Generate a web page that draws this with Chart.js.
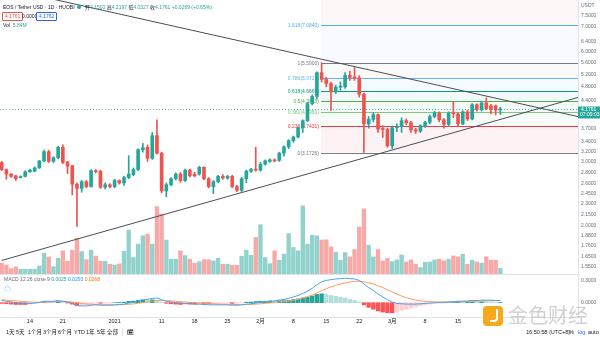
<!DOCTYPE html>
<html><head><meta charset="utf-8">
<script src="https://cdn.jsdelivr.net/npm/chart.js@4/dist/chart.umd.min.js"></script>
<style>
html,body{margin:0;padding:0;background:#fff;}
#wrap{position:relative;width:600px;height:338px;overflow:hidden;font-family:"Liberation Sans","Noto Sans CJK SC",sans-serif;}
canvas{position:absolute;left:0;}
.t{position:absolute;white-space:nowrap;font-size:5px;line-height:6px;color:#131722;}
.v{color:#26a69a;}
.box{position:absolute;font-size:5px;line-height:5px;padding:1px 2px;border:1px solid;border-radius:1px;white-space:nowrap;}
.tb{position:absolute;top:329px;font-size:5.5px;line-height:6px;color:#131722;white-space:nowrap;}
</style></head><body>
<div id="wrap">
<canvas id="main" width="600" height="275" style="top:0"></canvas>
<canvas id="macd" width="600" height="53" style="top:275px"></canvas>
<div style="position:absolute;left:0;top:274px;width:578px;height:1px;background:#e0e3eb"></div>

<div class="t" style="left:3px;top:4px;">EOS / Tether USD · 1D · HUOBI</div>
<div style="position:absolute;left:77px;top:5px;width:4px;height:4px;border-radius:50%;background:#26a69a"></div>
<div class="t" style="left:85px;top:4px;">开<span class="v">4.1500</span> 高<span class="v">4.2197</span> 低<span class="v">4.0327</span> 收<span class="v">4.1761</span> <span class="v">+0.0269 (+0.65%)</span></div>
<div class="box" style="left:2px;top:12px;color:#ef5350;border-color:#ef5350">4.1761</div>
<div class="t" style="left:22px;top:13px;">0.0001</div>
<div class="box" style="left:36px;top:12px;color:#2962ff;border-color:#2962ff">4.1762</div>
<div class="t" style="left:3px;top:22px;">Vol&nbsp;&nbsp;<span class="v">5.84M</span></div>
<div class="t" style="left:581px;top:2px;color:#6a6d78">USDT</div>

<div class="t" style="left:4px;top:276px;color:#6a6d78">MACD 12 26 close 9 <span style="color:#26a69a">0.0025</span> <span style="color:#2196f3">0.0293</span> <span style="color:#ff6d00">0.0268</span></div>
<div class="t" style="left:4px;top:286px;color:#2196f3;font-size:7px">☁</div>

<div class="tb" style="left:6px">1天</div>
<div class="tb" style="left:16px">5天</div>
<div class="tb" style="left:28px">1个月</div>
<div class="tb" style="left:43px">3个月</div>
<div class="tb" style="left:58px">6个月</div>
<div class="tb" style="left:74px">YTD</div>
<div class="tb" style="left:86px">1年</div>
<div class="tb" style="left:97px">5年</div>
<div class="tb" style="left:107px">全部</div>
<div style="position:absolute;left:122px;top:328px;width:1px;height:8px;background:#e0e3eb"></div>
<div class="tb" style="left:127px">🗓</div>
<div class="tb" style="left:526px">16:50:58 (UTC+8)</div>
<div class="tb" style="left:569px">%</div>
<div class="tb" style="left:578px;color:#2962ff">log</div>
<div class="tb" style="left:588px">auto</div>

<div style="position:absolute;left:483px;top:306px;width:20px;height:20px;border-radius:4px;background:#f7a81b;"></div>
<div style="position:absolute;left:490px;top:309px;width:6px;height:11px;border:2px solid #fff;border-top:none;border-left:none;border-radius:0 0 4px 0;"></div>
<div style="position:absolute;left:508px;top:303px;font-size:20px;line-height:24px;color:#c9c9c9;font-family:'Noto Sans CJK SC';opacity:0.85;letter-spacing:0px">金色财经</div>
</div>
<script>
// ---------- data ----------
const openP  = [2.98,2.85,2.77,2.74,2.71,2.73,2.81,2.82,2.88,3.01,3.19,3.00,3.07,3.28,2.99,2.92,2.60,2.53,2.64,2.56,2.83,2.82,2.55,2.59,2.56,2.66,2.62,2.71,2.76,2.85,3.23,3.28,3.06,3.53,3.16,2.49,2.59,2.69,2.77,2.66,2.84,2.77,2.77,2.89,2.69,2.56,2.64,2.73,2.70,2.73,2.56,2.50,2.69,2.82,2.85,2.84,2.95,3.00,3.03,3.02,3.16,3.29,3.42,3.50,3.71,3.88,4.32,4.52,5.25,5.03,4.90,4.65,4.79,4.80,5.16,5.09,5.08,4.58,3.80,3.91,4.03,3.68,3.67,3.31,3.71,3.74,3.88,3.83,3.66,3.63,3.76,3.84,3.98,4.07,3.90,3.79,4.07,4.05,3.80,4.10,3.92,4.29,4.16,4.34,4.26,4.26,4.15];
const highP  = [3.00,2.86,2.78,2.75,2.74,2.83,2.86,2.90,3.02,3.22,3.22,3.09,3.30,3.33,3.00,2.93,2.62,2.66,2.66,2.85,2.85,2.84,2.62,2.61,2.68,2.67,2.73,3.11,2.88,3.25,3.36,3.33,3.60,3.90,3.18,2.62,2.71,2.79,2.80,2.86,2.86,2.80,2.91,2.90,2.71,2.66,2.75,2.76,2.75,2.75,2.58,2.71,2.84,2.87,3.28,2.98,3.03,3.05,3.05,3.18,3.31,3.44,3.52,3.73,3.90,4.35,4.56,5.28,5.59,5.10,4.95,4.85,4.95,5.25,5.30,5.42,5.15,4.62,3.98,4.08,4.05,3.76,3.70,3.75,3.80,3.95,3.92,3.86,3.70,3.78,3.87,4.02,4.12,4.10,3.93,4.10,4.38,4.08,4.13,4.14,4.32,4.31,4.37,4.48,4.30,4.28,4.2197];
const lowP   = [2.83,2.68,2.71,2.66,2.70,2.72,2.80,2.81,2.87,2.99,2.98,2.98,3.05,2.96,2.78,2.43,1.99,2.47,2.54,2.55,2.79,2.53,2.52,2.54,2.54,2.60,2.58,2.69,2.74,2.83,3.18,3.00,3.04,3.14,2.46,2.40,2.57,2.67,2.63,2.64,2.72,2.72,2.75,2.67,2.54,2.45,2.62,2.68,2.68,2.54,2.48,2.48,2.62,2.80,2.82,2.82,2.93,2.98,2.99,3.00,3.10,3.25,3.38,3.48,3.60,3.85,4.28,4.45,4.95,4.80,4.14,4.60,4.70,4.75,5.00,5.00,4.50,3.1726,3.70,3.85,3.60,3.49,3.28,3.25,3.62,3.60,3.78,3.60,3.58,3.60,3.72,3.80,3.95,3.85,3.70,3.75,3.95,3.76,3.78,3.88,3.90,4.12,4.12,4.15,4.05,4.02,4.0327];
const closeP = [2.85,2.77,2.73,2.69,2.72,2.81,2.84,2.88,3.01,3.19,3.00,3.07,3.28,2.98,2.91,2.60,2.53,2.64,2.56,2.83,2.81,2.55,2.59,2.56,2.66,2.62,2.71,2.77,2.85,3.23,3.27,3.06,3.53,3.16,2.49,2.59,2.69,2.77,2.66,2.84,2.74,2.74,2.89,2.69,2.56,2.64,2.73,2.70,2.73,2.56,2.50,2.69,2.82,2.85,2.84,2.95,3.01,3.03,3.01,3.16,3.29,3.42,3.50,3.71,3.88,4.32,4.52,5.25,5.03,4.90,4.65,4.79,4.80,5.16,5.09,5.08,4.58,3.80,3.91,4.03,3.68,3.67,3.31,3.71,3.74,3.88,3.83,3.66,3.63,3.76,3.84,3.98,4.07,3.90,3.79,4.07,4.05,3.80,4.10,3.92,4.29,4.16,4.34,4.18,4.16,4.149,4.1761];
const volumeM = [10.2,8.7,5.5,7.0,5.0,5.0,5.0,5.0,7.8,18.9,15.7,7.2,14.5,20.9,11.9,21.5,31.9,20.3,13.3,21.5,16.3,11.9,11.9,9.3,8.7,9.6,20.6,38.9,15.1,26.7,33.9,35.4,26.7,59.2,52.8,30.2,13.7,13.7,20.9,16.8,13.7,10.2,11.6,13.3,13.3,12.2,14.5,9.3,9.3,8.4,8.4,16.3,21.5,17.1,32.5,43.5,15.1,9.8,20.9,12.8,18.0,35.9,23.8,20.9,59.8,26.7,34.5,33.9,30.2,30.5,24.4,19.7,12.8,19.4,15.7,22.0,41.5,57.2,25.8,15.7,22.0,12.2,14.5,11.6,13.1,17.4,11.3,13.1,9.3,6.4,11.0,11.3,13.1,13.7,12.2,13.7,16.5,15.7,18.0,9.3,12.8,11.3,10.2,15.7,12.8,12.8,5.84];
const macdLine = [0.03,0.02,0.01,0.0,-0.005,-0.01,-0.01,-0.005,0.005,0.02,0.02,0.02,0.03,0.02,0.01,-0.01,-0.04,-0.045,-0.045,-0.035,-0.03,-0.035,-0.035,-0.035,-0.03,-0.025,-0.02,-0.005,0.005,0.025,0.04,0.045,0.06,0.065,0.04,0.02,0.01,0.0,-0.01,-0.01,-0.015,-0.02,-0.02,-0.025,-0.03,-0.03,-0.03,-0.03,-0.03,-0.035,-0.035,-0.03,-0.02,-0.015,-0.005,0.005,0.01,0.02,0.025,0.035,0.045,0.06,0.08,0.10,0.13,0.16,0.20,0.25,0.29,0.31,0.32,0.33,0.335,0.34,0.335,0.33,0.31,0.26,0.21,0.17,0.12,0.08,0.04,0.01,-0.01,-0.015,-0.02,-0.02,-0.02,-0.015,-0.01,-0.005,0.0,0.005,0.005,0.01,0.015,0.02,0.02,0.025,0.03,0.03,0.035,0.035,0.035,0.03,0.0293];
const signalLine = [0.04,0.035,0.03,0.025,0.02,0.015,0.01,0.005,0.005,0.005,0.01,0.012,0.015,0.017,0.015,0.01,0.0,-0.01,-0.02,-0.022,-0.025,-0.027,-0.029,-0.03,-0.03,-0.029,-0.027,-0.023,-0.017,-0.008,0.002,0.01,0.02,0.029,0.031,0.029,0.025,0.02,0.014,0.009,0.004,0.0,-0.004,-0.008,-0.012,-0.016,-0.019,-0.021,-0.023,-0.025,-0.027,-0.028,-0.026,-0.024,-0.02,-0.015,-0.01,-0.004,0.002,0.009,0.016,0.025,0.036,0.048,0.065,0.083,0.107,0.135,0.166,0.195,0.22,0.242,0.26,0.276,0.288,0.296,0.299,0.29,0.275,0.26,0.235,0.21,0.18,0.15,0.12,0.093,0.07,0.052,0.038,0.027,0.019,0.014,0.011,0.01,0.009,0.009,0.01,0.012,0.013,0.015,0.018,0.02,0.023,0.025,0.027,0.028,0.0268];
const macdHist = [-0.01,-0.015,-0.02,-0.025,-0.025,-0.025,-0.02,-0.01,0.0,0.015,0.01,0.008,0.015,0.003,-0.005,-0.02,-0.04,-0.035,-0.025,-0.013,-0.005,-0.008,-0.006,-0.005,0.0,0.004,0.007,0.018,0.022,0.033,0.038,0.035,0.04,0.036,0.009,-0.009,-0.015,-0.02,-0.024,-0.019,-0.019,-0.02,-0.016,-0.017,-0.018,-0.014,-0.011,-0.009,-0.007,-0.01,-0.008,-0.002,0.006,0.009,0.015,0.02,0.02,0.024,0.023,0.026,0.029,0.035,0.044,0.052,0.065,0.077,0.093,0.115,0.124,0.115,0.10,0.088,0.075,0.064,0.047,0.034,0.011,-0.03,-0.065,-0.09,-0.115,-0.13,-0.14,-0.14,-0.13,-0.108,-0.09,-0.072,-0.058,-0.042,-0.029,-0.019,-0.011,-0.005,-0.004,0.001,0.005,0.008,0.007,0.01,0.012,0.01,0.012,0.01,0.008,0.002,0.0025];
const priceTicks = [7.5,7.0,6.4,6.0,5.6,5.2,4.8,4.4,3.7,3.4,3.2,3.0,2.8,2.6,2.45,2.3,2.15,2.0,1.88,1.76,1.65,1.55];
const macdTicks = [0.3,0.0];
const timeTickIdx = [6,13,24,34,41,48,55,62,69,76,83,90,97,104];
const timeTickText = ['14','21','2021','11','18','25','2月','8','15','22','3月','8','15','22'];
const fibRatios = ['0','0.236','0.382','0.5','0.618','0.786','1','1.618'];
const fibPrices = [3.1726,3.7431,4.0960,4.3813,4.6666,5.0727,5.5900,7.0840];
const fibStartIdx = 67.8;
const trendDownX = [0,122.5], trendDownY = [8.97,3.98];
const trendUpX = [0,122.5], trendUpY = [1.607,4.49];
const lastPrice = 4.1761, lastTime = '07:09:03';
// ---------- styles ----------
const UP='#26a69a', DN='#ef5350';
const fibLineColors = ['#787b86','#f23645','#81c784','#4caf50','#089981','#64b5f6','#787b86','#4fb3e8'];
const fibFillColors = ['rgba(242,54,69,0.06)','rgba(129,199,132,0.06)','rgba(76,175,80,0.06)','rgba(8,153,129,0.05)','rgba(100,181,246,0.06)','rgba(120,123,134,0.035)','rgba(41,98,255,0.03)','rgba(242,54,69,0.04)'];
const FONT = 'Liberation Sans, Noto Sans CJK SC, sans-serif';
const X_MIN = -0.36, X_MAX = 122.5;
const N = closeP.length;
const idx = Array.from({length:N},(_,i)=>i);
const isUp = idx.map(i=>closeP[i]>=openP[i]);
const noPad = s=>{s.paddingTop=0; s.paddingBottom=0; s.paddingLeft=0; s.paddingRight=0;};

const fibPlugin = {
  id:'fib',
  beforeDatasetsDraw(chart){
    const {ctx, chartArea:a, scales:{x,y}} = chart;
    const x0 = Math.round(x.getPixelForValue(fibStartIdx));
    ctx.save();
    ctx.beginPath(); ctx.rect(a.left,a.top,a.right-a.left,a.bottom-a.top); ctx.clip();
    for(let k=0;k<fibPrices.length;k++){
      const yLo = y.getPixelForValue(fibPrices[k]);
      const yHi = k+1<fibPrices.length ? y.getPixelForValue(fibPrices[k+1]) : a.top;
      ctx.fillStyle = fibFillColors[k];
      ctx.fillRect(x0, yHi, a.right-x0, yLo-yHi);
    }
    ctx.lineWidth=1;
    ctx.font = '5px '+FONT; ctx.textAlign='right'; ctx.textBaseline='middle';
    for(let k=0;k<fibPrices.length;k++){
      const yy = Math.round(y.getPixelForValue(fibPrices[k]))+0.5;
      ctx.strokeStyle = fibLineColors[k];
      ctx.beginPath(); ctx.moveTo(x0,yy); ctx.lineTo(a.right,yy); ctx.stroke();
      ctx.fillStyle = fibLineColors[k];
      ctx.fillText(fibRatios[k]+'('+fibPrices[k].toFixed(4)+')', x0-2, yy);
    }
    ctx.restore();
  },
  afterDatasetsDraw(chart){
    const {ctx, chartArea:a, scales:{y}} = chart;
    const yy = Math.round(y.getPixelForValue(lastPrice))+0.5;
    ctx.save();
    ctx.strokeStyle='rgba(38,166,154,0.8)'; ctx.setLineDash([1,2]); ctx.lineWidth=1;
    ctx.beginPath(); ctx.moveTo(a.left,yy); ctx.lineTo(a.right,yy); ctx.stroke();
    ctx.setLineDash([]);
    ctx.fillStyle=UP; ctx.fillRect(a.right, yy-3, 22, 12);
    ctx.fillStyle='#fff'; ctx.font='5px '+FONT; ctx.textAlign='left'; ctx.textBaseline='middle';
    ctx.fillText(lastPrice.toFixed(4), a.right+3, yy+0.5);
    ctx.fillText(lastTime, a.right+2, yy+5.5);
    ctx.restore();
  }
};

new Chart(document.getElementById('main'), {
  type:'bar',
  data:{ datasets:[
    {type:'line', data:trendDownX.map((v,k)=>({x:v,y:trendDownY[k]})), borderColor:'#4a4d57', borderWidth:1, pointRadius:0, yAxisID:'y', order:0},
    {type:'line', data:trendUpX.map((v,k)=>({x:v,y:trendUpY[k]})), borderColor:'#4a4d57', borderWidth:1, pointRadius:0, yAxisID:'y', order:0},
    {data:idx.map(i=>({x:i,y:[openP[i],closeP[i]]})), backgroundColor:idx.map(i=>isUp[i]?UP:DN), barThickness:3, minBarLength:1, grouped:false, yAxisID:'y', order:1},
    {data:idx.map(i=>({x:i,y:[lowP[i],highP[i]]})), backgroundColor:idx.map(i=>isUp[i]?UP:DN), barThickness:1, grouped:false, yAxisID:'y', order:2},
    {data:idx.map(i=>({x:i,y:volumeM[i]})), backgroundColor:idx.map(i=>isUp[i]?'rgba(38,166,154,0.5)':'rgba(239,83,80,0.5)'), barThickness:3.7, grouped:false, yAxisID:'yVol', order:5}
  ]},
  options:{
    responsive:false, animation:false, devicePixelRatio:1,
    layout:{padding:0, autoPadding:false},
    plugins:{legend:{display:false}, tooltip:{enabled:false}},
    scales:{
      x:{type:'linear', min:X_MIN, max:X_MAX, offset:false, display:false},
      yVol:{type:'linear', min:0, max:238, display:false},
      y:{type:'logarithmic', position:'right', min:1.466, max:8.30,
         afterBuildTicks:s=>{s.ticks = priceTicks.map(v=>({value:v}));},
         afterFit:s=>{s.width=22; noPad(s);},
         ticks:{callback:v=>Number(v).toFixed(4), font:{size:5, family:FONT}, color:'#6a6d78', padding:3, autoSkip:false},
         grid:{display:false, drawTicks:false},
         border:{display:true, color:'#e0e3eb'}}
    }
  },
  plugins:[fibPlugin]
});

const histColors = idx.map(i=>{
  const h=macdHist[i], p=i>0?macdHist[i-1]:0;
  if(h>=0) return h>=p?'#26a69a':'#b2dfdb';
  return h<=p?'#ff5252':'#ffcdd2';
});
new Chart(document.getElementById('macd'), {
  type:'bar',
  data:{ datasets:[
    {type:'line', data:idx.map(i=>({x:i,y:macdLine[i]})), borderColor:'#4aa3f0', borderWidth:1, pointRadius:0, tension:0, order:0},
    {type:'line', data:idx.map(i=>({x:i,y:signalLine[i]})), borderColor:'#ff9d5c', borderWidth:1, pointRadius:0, tension:0, order:0},
    {data:idx.map(i=>({x:i,y:macdHist[i]})), backgroundColor:histColors, barThickness:3.7, grouped:false, order:1}
  ]},
  options:{
    responsive:false, animation:false, devicePixelRatio:1,
    layout:{padding:0, autoPadding:false},
    plugins:{legend:{display:false}, tooltip:{enabled:false}},
    scales:{
      x:{type:'linear', min:X_MIN, max:X_MAX, offset:false,
         afterBuildTicks:s=>{s.ticks = timeTickIdx.map(v=>({value:v}));},
         afterFit:s=>{s.height=11; noPad(s);},
         ticks:{callback:(v,k)=>timeTickText[k], font:{size:5.5, family:FONT}, color:'#131722', padding:1, autoSkip:false, maxRotation:0},
         grid:{display:false, drawTicks:false},
         border:{display:true, color:'#e0e3eb'}},
      y:{type:'linear', position:'right', min:-0.199, max:0.385,
         afterBuildTicks:s=>{s.ticks = macdTicks.map(v=>({value:v}));},
         afterFit:s=>{s.width=22; noPad(s);},
         ticks:{callback:v=>Number(v).toFixed(4), font:{size:5, family:FONT}, color:'#6a6d78', padding:3, autoSkip:false},
         grid:{display:false, drawTicks:false},
         border:{display:true, color:'#e0e3eb'}}
    }
  }
});
</script>
</body></html>
